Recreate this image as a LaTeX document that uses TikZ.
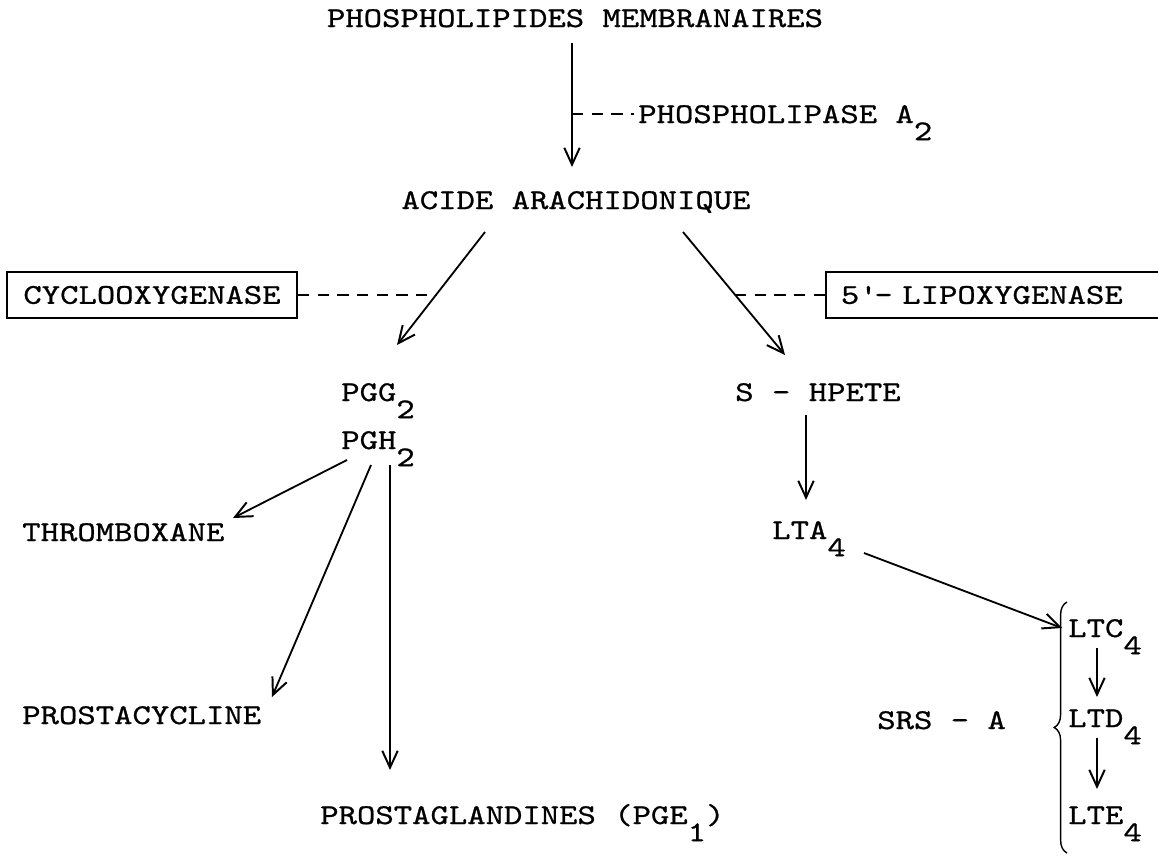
\documentclass[tikz,border=0pt]{standalone}
\usepackage{fontspec}
\setmainfont{lmmono10-regular.otf}[FakeStretch=1.22,FakeBold=0.8]
\usetikzlibrary{arrows.meta}
\usetikzlibrary{decorations.pathreplacing}
\newcommand{\lowsub}[1]{\raisebox{-0.6em}{#1}}

\begin{document}
\begin{tikzpicture}[x=0.025cm,y=-0.025cm,font=\fontsize{20.4}{24}\selectfont,
 every node/.style={inner sep=0pt},
 flow/.style={line width=1.3pt,-{Straight Barb[length=12pt,width=11pt,line width=1.4pt]}},
 enzyme/.style={draw,line width=1.3pt,minimum height=1.15cm},
 link/.style={line width=1.1pt,dash pattern=on 8pt off 6pt},
 brace/.style={line width=1pt,decorate,decoration={brace,amplitude=0.32cm}}]
\useasboundingbox (0,0) rectangle (1158,856);
\node[anchor=base] (mem) at (575,27) {PHOSPHOLIPIDES MEMBRANAIRES};
\node[anchor=base west] (pla) at (638,123) {PHOSPHOLIPASE A\lowsub{2}};
\node[anchor=base] (aa) at (576,209) {ACIDE ARACHIDONIQUE};
\node[enzyme,minimum width=7.25cm] (cox) at (152,295) {CYCLOOXYGENASE};
\node[enzyme,anchor=west,text width=8.5cm,align=left,inner xsep=0.375cm] (lox) at (825,295) {5\textquotesingle- LIPOXYGENASE};
\node[anchor=base west] (pgg) at (341,401) {PGG\lowsub{2}};
\node[anchor=base west] (pgh) at (341,449) {PGH\lowsub{2}};
\node[anchor=base west] (hpete) at (735,401) {S - HPETE};
\node[anchor=base west] (lta) at (772,539) {LTA\lowsub{4}};
\node[anchor=base west] (ltc) at (1068,637) {LTC\lowsub{4}};
\node[anchor=base west] (ltd) at (1068,727) {LTD\lowsub{4}};
\node[anchor=base west] (lte) at (1068,824) {LTE\lowsub{4}};
\node[anchor=base west] (srs) at (877,729) {SRS - A};
\node[anchor=base west] (thx) at (22,541) {THROMBOXANE};
\node[anchor=base west] (pgi) at (22,724) {PROSTACYCLINE};
\node[anchor=base west] (pge) at (320,824) {PROSTAGLANDINES (PGE\lowsub{1})};
\draw[flow] ([shift={(-3,16)}]mem.base) -- coordinate[pos=0.573] (stem) ([shift={(-4,-42)}]aa.base);
\draw[link,shorten >=3pt] (stem) -- (stem -| pla.west);
\draw[flow] ([shift={(-91,23)}]aa.base) -- coordinate[pos=0.558] (cx) ([shift={(56,-56)}]pgg.base west);
\draw[flow] ([shift={(107,23)}]aa.base) -- coordinate[pos=0.512] (lx) ([shift={(50,-46)}]hpete.base west);
\draw[link] (cox.east) -- (cox.east -| cx);
\draw[link] (lox.west) -- (lox.west -| lx);
\draw[flow] ([shift={(71,14)}]hpete.base west) -- ([shift={(34,-39)}]lta.base west);
\draw[flow] ([shift={(92,14)}]lta.base west) -- ([shift={(-6,-9)}]ltc.base west);
\draw[flow] ([shift={(29,11)}]ltc.base west) -- ([shift={(29,-30)}]ltd.base west);
\draw[flow] ([shift={(29,11)}]ltd.base west) -- ([shift={(29,-35)}]lte.base west);
\draw[brace] ([shift={(-1,29)}]lte.base west) -- ([shift={(-1,-35)}]ltc.base west);
\draw[flow] ([shift={(6,11)}]pgh.base west) -- ([shift={(211,-23)}]thx.base west);
\draw[flow] ([shift={(30,16)}]pgh.base west) -- ([shift={(250,-27)}]pgi.base west);
\draw[flow] ([shift={(49,16)}]pgh.base west) -- ([shift={(70,-54)}]pge.base west);
\end{tikzpicture}
\end{document}
